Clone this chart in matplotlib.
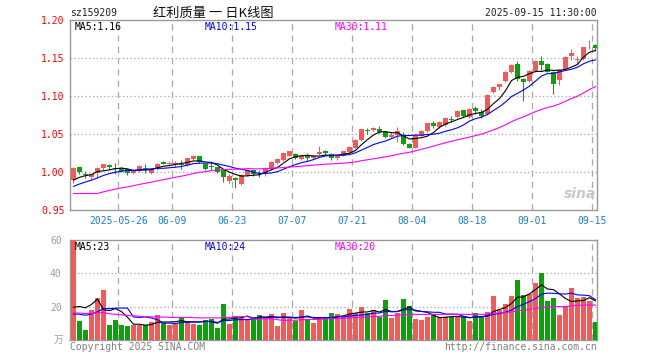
import numpy as np
import pandas as pd
import matplotlib
matplotlib.use("Agg")
import matplotlib.pyplot as plt

plt.rcParams['font.family'] = ['DejaVu Sans Mono', 'Noto Sans CJK SC']

# 日K数据 2025-05-14 .. 2025-09-15
open_ = [0.989, 1.0065, 0.998, 0.993, 0.999, 1.005, 1.009, 1.005, 1.005, 1.004,
         0.999, 1.001, 1.005, 0.999, 1.004, 1.0135, 1.010, 1.009, 1.011, 1.009,
         1.017, 1.0205, 1.0105, 1.008, 1.006, 1.002, 0.988, 0.992, 0.984, 0.996,
         1.002, 0.999, 0.997, 1.004, 1.012, 1.0155, 1.0215, 1.024, 1.017, 1.021,
         1.018, 1.0235, 1.028, 1.024, 1.018, 1.0215, 1.026, 1.0315, 1.042, 1.055,
         1.055, 1.0565, 1.052, 1.0455, 1.049, 1.049, 1.037, 1.0315, 1.048, 1.054,
         1.0645, 1.059, 1.062, 1.0695, 1.072, 1.0815, 1.072, 1.084, 1.0785, 1.076,
         1.105, 1.1125, 1.120, 1.131, 1.142, 1.123, 1.120, 1.133, 1.1465, 1.142,
         1.132, 1.1215, 1.1355, 1.152, 1.148, 1.149, 1.1665, 1.167]
close = [1.005, 1.000, 0.996, 0.997, 1.005, 1.010, 1.006, 1.004, 1.001, 0.999,
         1.001, 1.008, 1.004, 1.004, 1.011, 1.011, 1.0125, 1.012, 1.0095, 1.018,
         1.0205, 1.0135, 1.004, 1.007, 1.000, 0.993, 0.995, 0.989, 0.996, 1.002,
         0.997, 0.998, 1.005, 1.013, 1.017, 1.025, 1.027, 1.018, 1.0205, 1.019,
         1.021, 1.0265, 1.0245, 1.018, 1.021, 1.0275, 1.033, 1.042, 1.0565, 1.054,
         1.058, 1.052, 1.0455, 1.049, 1.054, 1.037, 1.0315, 1.049, 1.054, 1.0645,
         1.0605, 1.066, 1.071, 1.068, 1.080, 1.074, 1.083, 1.0805, 1.074, 1.101,
         1.112, 1.1155, 1.132, 1.141, 1.122, 1.119, 1.133, 1.1465, 1.141, 1.132,
         1.116, 1.1345, 1.151, 1.157, 1.149, 1.164, 1.167, 1.163]
high = [1.007, 1.007, 1.001, 0.998, 1.006, 1.011, 1.010, 1.012, 1.006, 1.005,
        1.003, 1.009, 1.011, 1.005, 1.012, 1.014, 1.015, 1.014, 1.016, 1.019,
        1.022, 1.021, 1.011, 1.013, 1.007, 1.003, 0.997, 0.993, 0.997, 1.003,
        1.003, 1.003, 1.006, 1.014, 1.018, 1.026, 1.028, 1.025, 1.022, 1.025,
        1.022, 1.034, 1.029, 1.025, 1.022, 1.028, 1.034, 1.043, 1.057, 1.058,
        1.059, 1.061, 1.053, 1.053, 1.059, 1.052, 1.038, 1.050, 1.055, 1.065,
        1.067, 1.067, 1.072, 1.074, 1.081, 1.082, 1.084, 1.087, 1.083, 1.102,
        1.113, 1.116, 1.133, 1.142, 1.146, 1.124, 1.134, 1.147, 1.1525, 1.143,
        1.133, 1.135, 1.152, 1.162, 1.152, 1.165, 1.174, 1.168]
low = [0.986, 0.998, 0.992, 0.991, 0.992, 1.003, 1.004, 0.998, 1.000, 0.996,
       0.997, 1.000, 0.999, 0.998, 1.003, 1.010, 1.008, 1.007, 1.004, 1.008,
       1.016, 1.012, 1.002, 1.002, 0.999, 0.987, 0.986, 0.979, 0.983, 0.995,
       0.995, 0.994, 0.995, 1.003, 1.011, 1.015, 1.021, 1.017, 1.016, 1.014,
       1.017, 1.023, 1.023, 1.016, 1.016, 1.021, 1.025, 1.031, 1.041, 1.050,
       1.054, 1.051, 1.045, 1.045, 1.040, 1.035, 1.031, 1.031, 1.047, 1.053,
       1.058, 1.058, 1.061, 1.066, 1.071, 1.073, 1.071, 1.076, 1.0715, 1.075,
       1.104, 1.108, 1.119, 1.130, 1.120, 1.094, 1.119, 1.132, 1.1345, 1.131,
       1.103, 1.114, 1.135, 1.148, 1.142, 1.148, 1.162, 1.159]
volume = [62, 11.6, 6, 18, 25.2, 30, 9, 12, 9, 8.4,
          9, 9, 9, 11, 15, 10, 9, 10, 14, 11.6,
          9.6, 9, 12, 12.4, 7.4, 21.6, 9.6, 14.4, 14.4, 12,
          13.6, 15, 14, 15.6, 8.4, 16.4, 13.6, 11.6, 18, 12.4,
          10, 13.6, 13.6, 16.4, 15.6, 13.6, 18.6, 16.4, 19.6, 16,
          18, 14, 24, 13.4, 16.4, 24.6, 20.4, 12.4, 12, 13.6,
          15.6, 13.6, 13.6, 13.6, 14.4, 13.6, 11.6, 16, 14.4, 17,
          26.4, 18, 21.6, 26.4, 36, 27, 27.6, 34.4, 40.4, 23.6,
          25, 15, 20.4, 31.5, 25.5, 26, 23.5, 11]

# 窗口之前的29个交易日（由均线起点估计）
close_before = [1.000, 0.996, 0.997, 1.004, 0.945, 0.950, 0.955, 0.952, 0.958, 0.956,
                0.955, 0.958, 0.960, 0.962, 0.963, 0.965, 0.964, 0.966, 0.968, 0.967,
                0.969, 0.970, 0.972, 0.975, 0.978, 0.982, 0.985, 0.990, 0.985]
volume_before = [14, 13, 15, 14, 30, 28, 22, 20, 18, 17,
                 16, 15, 16, 14, 15, 13, 14, 12, 13, 12,
                 13, 12, 11, 12, 10, 9, 10, 8, 9]

tick_dates = ['2025-05-26', '2025-06-09', '2025-06-23', '2025-07-07', '2025-07-21',
              '2025-08-04', '2025-08-18', '2025-09-01', '2025-09-15']
price_ticks = [0.95, 1.00, 1.05, 1.10, 1.15, 1.20]
vol_ticks = [20, 40, 60]

RED = '#ff5555'
GREEN = '#00a800'
GRID = '#a8a8a8'

dates = pd.bdate_range('2025-05-14', '2025-09-15').drop(pd.Timestamp('2025-06-02'))
n = len(close)
x = np.arange(n)
o = np.array(open_)
c = np.array(close)
up = c >= o
colors = np.where(up, RED, GREEN)

full_c = pd.Series(close_before + close)
full_v = pd.Series(volume_before + volume)
nb = len(close_before)
ma = {k: full_c.rolling(k).mean().values[nb:] for k in (5, 10, 30)}
vma = {k: full_v.rolling(k).mean().values[nb:] for k in (5, 10, 30)}
ma_colors = {5: 'black', 10: '#0000ff', 30: '#ff00ff'}

W, H = 660, 360
fig = plt.figure(figsize=(W / 100, H / 100), dpi=100)


def px_axes(l, t, r, b):
    return fig.add_axes([l / W, 1 - b / H, (r - l) / W, (b - t) / H])


ax = px_axes(70, 20, 597, 210)
axv = px_axes(70, 240, 597, 340)

xlim = (-0.583, 87.25)
tick_pos = [list(dates.strftime('%Y-%m-%d')).index(d) - 0.5 for d in tick_dates]

for a in (ax, axv):
    a.set_xlim(*xlim)
    for s in a.spines.values():
        s.set_color('#999999')
        s.set_linewidth(1)
    for p in tick_pos:
        a.axvline(p, color=GRID, lw=0.9, ls=(0, (5, 4)), zorder=0)
    a.tick_params(length=0)

# K线
body_h = np.maximum(np.abs(c - o), 0.0012)
ax.vlines(x, low, high, colors=colors, lw=0.8, zorder=2)
ax.bar(x, body_h, bottom=np.minimum(o, c), width=5 / 6, color=colors, lw=0, zorder=3)
for k in (5, 10, 30):
    ax.plot(x, ma[k], color=ma_colors[k], lw=0.8, zorder=4)
ax.set_ylim(0.95, 1.20)
ax.set_yticks(price_ticks)
ax.set_yticklabels([f'{v:.2f}' for v in price_ticks], color='red', fontsize=7)
ax.tick_params(axis='y', pad=4)
for v in price_ticks[1:-1]:
    ax.axhline(v, color=GRID, lw=0.9, ls=(0, (1, 2)), zorder=0)
ax.set_xticks(tick_pos)
ax.set_xticklabels([d if i == 0 else d[5:] for i, d in enumerate(tick_dates)],
                   color='#1a80d0', fontsize=7)
ax.tick_params(axis='x', pad=4)

# 成交量
axv.bar(x, volume, width=5 / 6, color=colors, lw=0, zorder=3)
for k in (5, 10, 30):
    axv.plot(x, vma[k], color=ma_colors[k], lw=0.8, zorder=4)
axv.set_ylim(0, 60)
axv.set_yticks(vol_ticks)
axv.set_yticklabels([str(v) for v in vol_ticks], color='#a0a0a0', fontsize=7)
axv.tick_params(axis='y', pad=6)
axv.set_xticks([])
for v in vol_ticks[:-1]:
    axv.axhline(v, color=GRID, lw=0.9, ls=(0, (1, 2)), zorder=0)


def ftext(px, py, s, **kw):
    fig.text(px / W, 1 - py / H, s, va='center', **kw)


ftext(70, 13, 'sz159209', fontsize=7, color='#222222')
ftext(213, 13, '红利质量 一 日K线图', fontsize=9.5, ha='center', color='#111111',
      family=['Noto Sans CJK SC', 'DejaVu Sans'])
ftext(597, 13, '2025-09-15 11:30:00', fontsize=7, ha='right', color='#222222')

ftext(75, 27, f'MA5:{ma[5][-1]:.2f}', fontsize=7, color='black')
ftext(205, 27, f'MA10:{ma[10][-1]:.2f}', fontsize=7, color='#0000ff')
ftext(335, 27, f'MA30:{ma[30][-1]:.2f}', fontsize=7, color='#ff00ff')
ftext(75, 247, f'MA5:{int(vma[5][-1])}', fontsize=7, color='black')
ftext(205, 247, f'MA10:{int(vma[10][-1])}', fontsize=7, color='#0000ff')
ftext(335, 247, f'MA30:{int(vma[30][-1])}', fontsize=7, color='#ff00ff')

ftext(63, 340, '万', fontsize=7, ha='right', color='#a0a0a0',
      family=['Noto Sans CJK SC', 'DejaVu Sans'])
ftext(70, 347, 'Copyright 2025 SINA.COM', fontsize=7, color='#808080')
ftext(597, 347, 'http://finance.sina.com.cn', fontsize=7, ha='right', color='#808080')
ftext(596, 194, 'sina', fontsize=10, ha='right', color='#c8c8c8',
      style='italic', weight='bold', family='DejaVu Sans')

fig.savefig('out.png', dpi=100)
